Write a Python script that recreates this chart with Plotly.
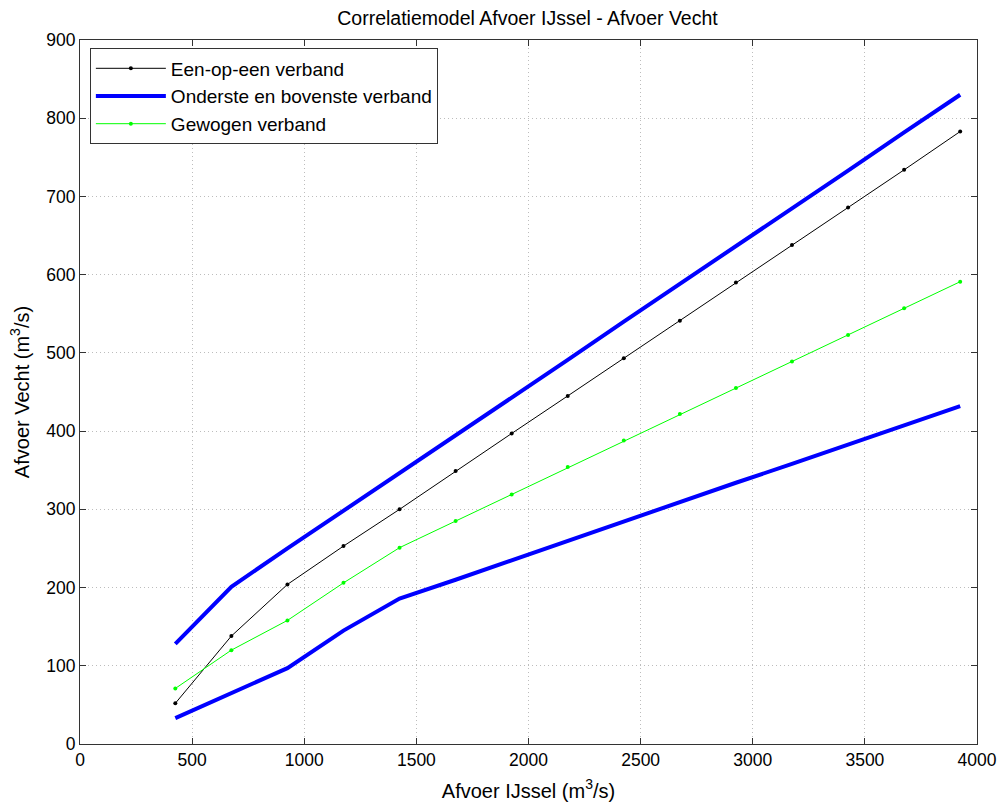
import plotly.graph_objects as go

x_ijssel = [425, 675, 925, 1175, 1425, 1675, 1925, 2175, 2425, 2675, 2925, 3175, 3425, 3675, 3925]
een_op_een = [52, 138, 204, 253, 300, 349, 397, 445, 493, 541, 590, 638, 686, 734, 783]
bovenste = [128, 201, 250, 298, 346, 394, 443, 491, 540, 588, 637, 685, 733, 782, 830]
onderste = [33, 65, 97, 145, 186, 210, 235, 260, 284, 309, 334, 358, 383, 407, 432]
gewogen = [71, 120, 158, 206, 251, 285, 319, 354, 388, 422, 455, 489, 523, 557, 591]

x_ticks = [0, 500, 1000, 1500, 2000, 2500, 3000, 3500, 4000]
y_ticks = [0, 100, 200, 300, 400, 500, 600, 700, 800, 900]

FONT = "Liberation Sans, Arial, sans-serif"

fig = go.Figure()
fig.add_trace(go.Scatter(
    x=x_ijssel, y=een_op_een, mode="lines+markers", name="Een-op-een verband",
    line=dict(color="black", width=1), marker=dict(color="black", size=4)))
fig.add_trace(go.Scatter(
    x=x_ijssel, y=onderste, mode="lines", name="Onderste en bovenste verband",
    line=dict(color="#0000ff", width=4), legendgroup="ob"))
fig.add_trace(go.Scatter(
    x=x_ijssel, y=bovenste, mode="lines", name="Onderste en bovenste verband",
    line=dict(color="#0000ff", width=4), legendgroup="ob", showlegend=False))
fig.add_trace(go.Scatter(
    x=x_ijssel, y=gewogen, mode="lines+markers", name="Gewogen verband",
    line=dict(color="#00ff00", width=1), marker=dict(color="#00ff00", size=4)))

axis_common = dict(
    showline=True, linecolor="#333333", linewidth=1, mirror="ticks",
    ticks="inside", ticklen=6, tickcolor="#333333",
    showgrid=True, gridcolor="#bdbdbd", griddash="1px,3px", gridwidth=1,
    zeroline=False, automargin=False,
    tickfont=dict(family=FONT, size=17.5, color="black"),
)

fig.update_layout(
    width=999, height=805,
    margin=dict(l=80, r=22, t=40, b=61),
    paper_bgcolor="white", plot_bgcolor="white",
    title=dict(text="Correlatiemodel Afvoer IJssel - Afvoer Vecht",
               x=0.528, xanchor="center", y=0.978, yanchor="middle",
               font=dict(family=FONT, size=19.5, color="black")),
    xaxis=dict(range=[0, 4000], tickvals=x_ticks,
               title=dict(text="Afvoer IJssel (m<sup>3</sup>/s)", standoff=14,
                          font=dict(family=FONT, size=20, color="black")),
               **axis_common),
    yaxis=dict(range=[0, 900], tickvals=y_ticks,
               title=dict(text="Afvoer Vecht (m<sup>3</sup>/s)", standoff=11,
                          font=dict(family=FONT, size=20, color="black")),
               **axis_common),
    legend=dict(x=0.011, y=0.988, xanchor="left", yanchor="top",
                bgcolor="white", bordercolor="#333333", borderwidth=1,
                font=dict(family=FONT, size=19, color="black"),
                tracegroupgap=0, itemwidth=70),
    showlegend=True,
)

fig.write_html("out.html")
